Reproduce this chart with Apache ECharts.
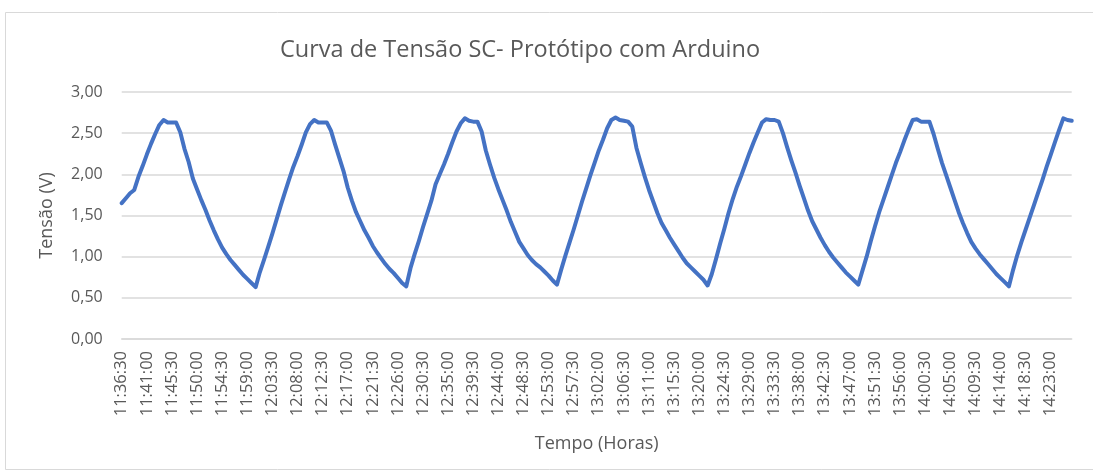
<!DOCTYPE html>
<html>
<head>
<meta charset="utf-8">
<script src="https://cdn.jsdelivr.net/npm/echarts@6/dist/echarts.min.js"></script>
<style>
html,body{margin:0;padding:0;background:#fff;}
#c{width:1093px;height:473px;}
</style>
</head>
<body>
<div id="c"></div>
<script>
// ---- Data ----
var startTime = '11:36:30';
var stepSeconds = 45;           // sampling step of the categories
var labelEvery = 6;             // one tick label each 4 min 30 s

var cycle1 = [1.65,1.71,1.77,1.81,1.97,2.10,2.24,2.37,2.49,2.60,2.66,2.63,2.63,2.63,2.51,2.31,2.15,1.95,1.82,1.69,1.57,1.44,1.32,1.21,1.11,1.03,0.96,0.90,0.84,0.78,0.73,0.68,0.63];
var cycle2 = [0.81,0.96,1.12,1.28,1.45,1.62,1.78,1.94,2.09,2.22,2.36,2.51,2.61,2.66,2.63,2.63,2.63,2.53,2.36,2.20,2.04,1.84,1.68,1.54,1.43,1.32,1.23,1.13,1.05,0.98,0.91,0.85,0.80,0.74,0.68,0.64];
var cycle3 = [0.86,1.03,1.19,1.36,1.52,1.68,1.88,2.00,2.12,2.25,2.39,2.52,2.62,2.68,2.65,2.64,2.64,2.52,2.29,2.12,1.96,1.82,1.69,1.56,1.42,1.30,1.18,1.10,1.02,0.96,0.91,0.87,0.82,0.77,0.71,0.66];
var cycle4 = [0.84,1.01,1.17,1.33,1.50,1.67,1.83,1.99,2.14,2.29,2.42,2.56,2.66,2.69,2.66,2.65,2.64,2.58,2.32,2.14,1.97,1.81,1.67,1.53,1.41,1.32,1.23,1.15,1.07,0.99,0.92,0.87,0.82,0.77,0.72,0.65];
var cycle5 = [0.79,0.97,1.16,1.34,1.53,1.70,1.85,1.98,2.12,2.26,2.39,2.51,2.63,2.67,2.66,2.66,2.64,2.50,2.33,2.17,2.02,1.86,1.71,1.56,1.43,1.33,1.23,1.14,1.06,0.99,0.93,0.87,0.81,0.76,0.71,0.66];
var cycle6 = [0.83,1.00,1.19,1.37,1.54,1.69,1.84,1.99,2.14,2.27,2.41,2.54,2.66,2.67,2.64,2.64,2.64,2.49,2.31,2.14,1.99,1.84,1.69,1.54,1.41,1.29,1.18,1.10,1.03,0.97,0.91,0.85,0.79,0.74,0.69,0.64];
var cycle7 = [0.84,1.02,1.18,1.33,1.48,1.63,1.78,1.93,2.09,2.24,2.39,2.54,2.68,2.66,2.65];

var tensao = [].concat(cycle1, cycle2, cycle3, cycle4, cycle5, cycle6, cycle7);

function pad(n){return (n<10?'0':'')+n;}
var p = startTime.split(':').map(Number);
var t0 = p[0]*3600+p[1]*60+p[2];
var tempo = tensao.map(function(_, i){
  var t = t0 + i*stepSeconds;
  return pad(Math.floor(t/3600))+':'+pad(Math.floor(t%3600/60))+':'+pad(t%60);
});

var FONT = 'Open Sans';
var chart = echarts.init(document.getElementById('c'), null, {renderer:'canvas'});
chart.setOption({
  backgroundColor:'#ffffff',
  animation:false,
  graphic:[{type:'rect', shape:{x:5.5,y:12.5,width:1100,height:457}, style:{fill:'none',stroke:'#d9d9d9',lineWidth:1}, z:-1}],
  title:{
    text:'Curva de Tensão SC- Protótipo com Arduino',
    left:515, top:33, textAlign:'center',
    textStyle:{fontFamily:FONT, fontSize:23.5, fontWeight:'normal', color:'#595959'}
  },
  grid:{left:121.7, right:21.3, top:92, bottom:134, containLabel:false},
  xAxis:{
    type:'category', data:tempo, boundaryGap:false,
    name:'Tempo (Horas)', nameLocation:'middle', nameGap:96,
    nameTextStyle:{fontFamily:FONT, fontSize:18, color:'#595959'},
    axisLine:{show:true, lineStyle:{color:'#d9d9d9', width:1.5}},
    axisTick:{show:false},
    axisLabel:{interval:labelEvery-1, rotate:90, margin:12, fontFamily:FONT, fontSize:16.5, color:'#595959'},
    splitLine:{show:false}
  },
  yAxis:{
    type:'value', min:0, max:3, interval:0.5,
    name:'Tensão (V)', nameLocation:'middle', nameGap:66, nameRotate:90,
    nameTextStyle:{fontFamily:FONT, fontSize:18, color:'#595959'},
    axisLine:{show:false}, axisTick:{show:false},
    axisLabel:{margin:19, fontFamily:FONT, fontSize:16, color:'#595959',
      formatter:function(v){return v.toFixed(2).replace('.',',');}},
    splitLine:{lineStyle:{color:'#d9d9d9', width:1.5}}
  },
  series:[{
    type:'line', data:tensao, showSymbol:false, symbol:'none', smooth:false,
    lineStyle:{color:'#4472C4', width:4, cap:'round', join:'round'}
  }]
});
</script>
</body>
</html>
